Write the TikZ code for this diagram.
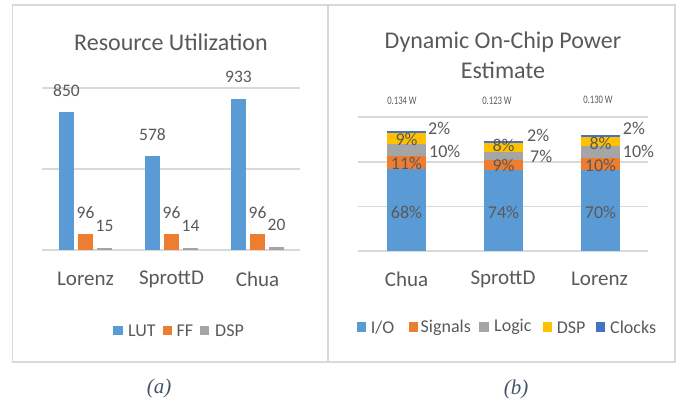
\documentclass[tikz,border=0pt]{standalone}
\usepackage{fontspec}
\setmainfont{Carlito}
\newfontfamily\capfont{Liberation Serif}
\newcommand{\myfs}[1]{\fontsize{#1}{#1}\selectfont}
\definecolor{txt}{HTML}{595959}
\definecolor{gridc}{HTML}{D9D9D9}
\definecolor{frm}{HTML}{D9D9D9}
\definecolor{cIO}{HTML}{5B9BD5}
\definecolor{cSig}{HTML}{ED7D31}
\definecolor{cLog}{HTML}{A5A5A5}
\definecolor{cDsp}{HTML}{FFC000}
\definecolor{cClk}{HTML}{4472C4}
\definecolor{capc}{HTML}{44546A}
\begin{document}
\begin{tikzpicture}[x=1pt,y=-1pt,
  ttl/.style={font=\myfs{24}, text=txt, inner sep=0},
  val/.style={font=\myfs{17.5}, text=txt, inner sep=0},
  pct/.style={font=\myfs{18}, text=txt, inner sep=0},
  pctout/.style={pct, anchor=west},
  cat/.style={font=\myfs{21}, text=txt, inner sep=0},
  leg/.style={font=\myfs{18}, text=txt, inner sep=0, anchor=west},
  pw/.style={font=\myfs{11.5}, text=txt, inner sep=0},
  gline/.style={draw=gridc, line width=1.3pt},
  captxt/.style={font=\capfont\itshape\myfs{21}, text=capc, inner sep=0}]
\useasboundingbox (0,0) rectangle (683,402);
% frame
\draw[frm, line width=1.4pt] (12.7,5) rectangle (675,362);
\draw[frm, line width=1.4pt] (328,5) -- (328,362);

% ---------- panel (a) ----------
\node[ttl] (ta) at (171,42) {Resource Utilization};
\foreach \y in {88,169,250} \draw[gline] (42,\y) -- (300,\y);
\foreach \x/\v/\f/\d/\n in {59/850/96/15/1,145/578/96/14/2,231/933/96/20/3}{
  \fill[cIO]  (\x,250) rectangle ({\x+15},{250-0.162*\v});
  \fill[cSig] ({\x+19},250) rectangle ({\x+34},{250-0.162*\f});
  \fill[cLog] ({\x+38},250) rectangle ({\x+53},{250-0.162*\d});
  \node[val] (lut\n) at ({\x+7.5},{250-0.162*\v-22}) {\v};
  \node[val] (ff\n) at ({\x+26.5},{250-0.162*\f-22}) {\f};
  \node[val] (dsp\n) at ({\x+45.5},{250-0.162*\d-22}) {\d};
}
\node[cat] (ca1) at (85.5,279) {Lorenz};
\node[cat] (ca2) at (171.5,279) {SprottD};
\node[cat] (ca3) at (257.5,279) {Chua};
\fill[cIO]  (113.3,326) rectangle (122.7,335.3);
\node[leg] (la1) at (128,330.5) {LUT};
\fill[cSig] (162.5,326) rectangle (171.8,335.3);
\node[leg] (la2) at (176.5,330.5) {FF};
\fill[cLog] (200,326) rectangle (209.3,335.3);
\node[leg] (la3) at (215,330.5) {DSP};

% ---------- panel (b) ----------
\node[ttl] (tb1) at (503,42) {Dynamic On-Chip Power};
\node[ttl] (tb2) at (503,70) {Estimate};
\foreach \y in {117,162,206.5,251} \draw[gline] (358,\y) -- (648,\y);
% Chua
\fill[cIO]  (387,251)   rectangle (426,169.4);
\fill[cSig] (387,169.4) rectangle (426,156.2);
\fill[cLog] (387,156.2) rectangle (426,144.2);
\fill[cDsp] (387,144.2) rectangle (426,133.4);
\fill[cClk] (387,133.4) rectangle (426,131.0);
% SprottD
\fill[cIO]  (484,251)   rectangle (523,169.5);
\fill[cSig] (484,169.5) rectangle (523,159.6);
\fill[cLog] (484,159.6) rectangle (523,151.9);
\fill[cDsp] (484,151.9) rectangle (523,143.1);
\fill[cClk] (484,143.1) rectangle (523,140.9);
% Lorenz
\fill[cIO]  (581,251)   rectangle (620,169.6);
\fill[cSig] (581,169.6) rectangle (620,158.0);
\fill[cLog] (581,158.0) rectangle (620,146.4);
\fill[cDsp] (581,146.4) rectangle (620,137.1);
\fill[cClk] (581,137.1) rectangle (620,134.8);
% power totals
\node[pw] (pw1) at (402,101) {\scalebox{0.75}[1]{0.134 W}};
\node[pw] (pw2) at (497,101) {\scalebox{0.75}[1]{0.123 W}};
\node[pw] (pw3) at (598,100) {\scalebox{0.75}[1]{0.130 W}};
% percentages
\node[pct] (p11) at (406.5,212) {68\%};
\node[pct] (p12) at (406.5,163) {11\%};
\node[pct] (p13) at (406.5,139) {9\%};
\node[pctout] (p14) at (428,128) {2\%};
\node[pctout] (p15) at (429,151) {10\%};
\node[pct] (p21) at (503.5,212) {74\%};
\node[pct] (p22) at (503.5,165) {9\%};
\node[pct] (p23) at (503.5,145) {8\%};
\node[pctout] (p24) at (527,135) {2\%};
\node[pctout] (p25) at (530,156) {7\%};
\node[pct] (p31) at (600.5,212) {70\%};
\node[pct] (p32) at (600.5,165) {10\%};
\node[pct] (p33) at (600.5,143) {8\%};
\node[pctout] (p34) at (622.7,128) {2\%};
\node[pctout] (p35) at (622.7,151) {10\%};
% categories
\node[cat] (cb1) at (406.5,279) {Chua};
\node[cat] (cb2) at (503,279) {SprottD};
\node[cat] (cb3) at (599.5,279) {Lorenz};
% legend
\fill[cIO]  (356.7,322.3) rectangle (366,331.7);
\node[leg] (lb1) at (370.7,327.3) {I/O};
\fill[cSig] (409,322.3) rectangle (418.3,331.7);
\node[leg] (lb2) at (420.5,327.3) {Signals};
\fill[cLog] (479.3,322.3) rectangle (488.6,331.7);
\node[leg] (lb3) at (494,327.3) {Logic};
\fill[cDsp] (542.7,322.3) rectangle (552,331.7);
\node[leg] (lb4) at (556.7,327.3) {DSP};
\fill[cClk] (596,322.3) rectangle (605.3,331.7);
\node[leg] (lb5) at (610,327.3) {Clocks};

% captions
\node[captxt] (capa) at (159,388) {(a)};
\node[captxt] (capb) at (516,389) {(b)};
\end{tikzpicture}
\end{document}
